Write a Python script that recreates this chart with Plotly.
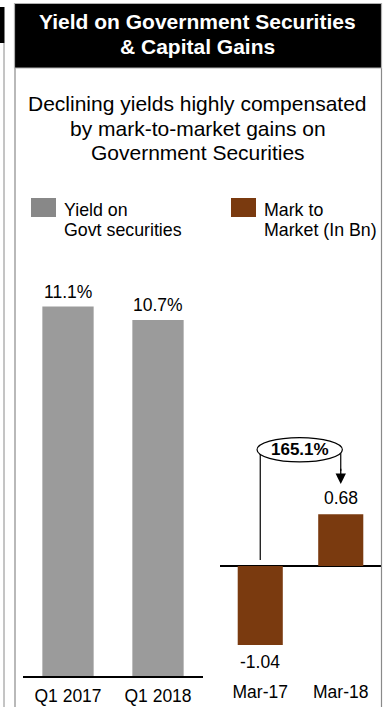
import plotly.graph_objects as go

# ---- data ----
yield_periods = ["Q1 2017", "Q1 2018"]
yield_values = [11.1, 10.7]
yield_labels = ["11.1%", "10.7%"]

mtm_periods = ["Mar-17", "Mar-18"]
mtm_values = [-1.04, 0.68]
mtm_labels = ["-1.04", "0.68"]

mtm_change_label = "165.1%"

title_lines = ["Yield on Government Securities", "& Capital Gains"]
subtitle_lines = ["Declining yields highly compensated",
                  "by mark-to-market gains on",
                  "Government Securities"]
legend_yield = ["Yield on", "Govt securities"]
legend_mtm = ["Mark to", "Market (In Bn)"]

# ---- styling ----
W, H = 385, 707
FONT = "Liberation Sans, Arial, Helvetica, sans-serif"
GRAY_BAR = "#9b9b9b"
BROWN = "#7a3a0f"
BORDER = "#8a8a8a"
LABEL_SIZE = 17.5


def px(x):
    return x / W


def py(y):
    return 1 - y / H


fig = go.Figure()

fig.add_trace(go.Bar(
    x=yield_periods, y=yield_values,
    marker=dict(color=GRAY_BAR, line=dict(width=0)),
    width=0.57, xaxis="x", yaxis="y", showlegend=False, hoverinfo="skip",
))

fig.add_trace(go.Bar(
    x=mtm_periods, y=mtm_values,
    marker=dict(color=BROWN, line=dict(width=0)),
    width=0.56, xaxis="x2", yaxis="y2", showlegend=False, hoverinfo="skip",
))

# both panels share the same plotting band; the zero line of the right
# panel sits higher because its scale reaches below zero
y_dom = [py(676), py(260)]
mtm_px_per_unit = 76.0
mtm_zero_px = 566
mtm_range = [-(676 - mtm_zero_px) / mtm_px_per_unit, (mtm_zero_px - 260) / mtm_px_per_unit]

fig.update_layout(
    width=W, height=H, autosize=False,
    margin=dict(l=0, r=0, t=0, b=0, pad=0),
    paper_bgcolor="white", plot_bgcolor="white",
    font=dict(family=FONT, color="black"),
    xaxis=dict(domain=[px(23), px(203)], anchor="y", showline=True,
               linecolor="black", linewidth=1.5, showgrid=False, ticks="",
               tickfont=dict(size=LABEL_SIZE), ticklabelstandoff=3,
               range=[-0.5, 1.5]),
    yaxis=dict(domain=y_dom, anchor="x", range=[0, 12.5], visible=False,
               showgrid=False, zeroline=False),
    xaxis2=dict(domain=[px(220), px(381)], anchor="y2", showline=False,
                showgrid=False, ticks="", tickfont=dict(size=LABEL_SIZE),
                ticklabelstandoff=3, range=[-0.5, 1.5]),
    yaxis2=dict(domain=y_dom, anchor="x2", range=mtm_range, showgrid=False,
                zeroline=True, zerolinecolor="black", zerolinewidth=1.5,
                showticklabels=False, showline=False),
)

shapes = []
# neighbouring panel edge on the far left
shapes.append(dict(type="rect", xref="paper", yref="paper",
                   x0=px(-5), x1=px(4.5), y0=py(43), y1=py(7),
                   fillcolor="black", line=dict(width=0)))
shapes.append(dict(type="line", xref="paper", yref="paper",
                   x0=px(4), x1=px(4), y0=py(43), y1=py(707),
                   line=dict(color=BORDER, width=1)))
# panel frame
shapes.append(dict(type="line", xref="paper", yref="paper",
                   x0=px(15), x1=px(15), y0=py(68), y1=py(707),
                   line=dict(color=BORDER, width=1.2)))
shapes.append(dict(type="line", xref="paper", yref="paper",
                   x0=px(381.5), x1=px(381.5), y0=py(68), y1=py(707),
                   line=dict(color=BORDER, width=1.2)))
# header bar
shapes.append(dict(type="rect", xref="paper", yref="paper",
                   x0=px(14.5), x1=px(381.5), y0=py(68), y1=py(3.5),
                   fillcolor="black", line=dict(color="#b0b0b0", width=1.2)))

# legend swatches
shapes.append(dict(type="rect", xref="paper", yref="paper",
                   x0=px(31), x1=px(56), y0=py(217), y1=py(198),
                   fillcolor="#888888", line=dict(width=0)))
shapes.append(dict(type="rect", xref="paper", yref="paper",
                   x0=px(231), x1=px(256), y0=py(217), y1=py(198),
                   fillcolor=BROWN, line=dict(width=0)))

# change callout between the two mark-to-market bars
call_y = 1.53
shapes.append(dict(type="line", xref="x2", yref="y2",
                   x0=0, x1=0, y0=0.08, y1=call_y,
                   line=dict(color="black", width=1.2)))
shapes.append(dict(type="line", xref="x2", yref="y2",
                   x0=1, x1=1, y0=call_y, y1=1.25,
                   line=dict(color="black", width=1.2)))
shapes.append(dict(type="circle", xref="x2", yref="y2",
                   x0=-0.04, x1=1.02, y0=1.37, y1=1.69,
                   fillcolor="white", line=dict(color="black", width=1.2)))

fig.update_layout(shapes=shapes)


def text_line(txt, x, y, size, color="black", bold=False, anchor="center"):
    txt = txt.replace("&", "&amp;")
    if bold:
        txt = "<b>" + txt + "</b>"
    return dict(text=txt, xref="paper", yref="paper", x=px(x), y=py(y),
                xanchor=anchor, yanchor="middle", showarrow=False,
                font=dict(size=size, color=color, family=FONT))


annotations = []
for txt, yy in zip(title_lines, [22, 47]):
    annotations.append(text_line(txt, 198, yy, 21, color="white", bold=True))
for txt, yy in zip(subtitle_lines, [104, 128, 152]):
    annotations.append(text_line(txt, 197.5, yy, 21))
for txt, yy in zip(legend_yield, [210, 230]):
    annotations.append(text_line(txt, 62, yy, 17.8, anchor="left"))
for txt, yy in zip(legend_mtm, [210, 230]):
    annotations.append(text_line(txt, 262, yy, 17.8, anchor="left"))

# value labels sit just beyond the end of each bar
for cat, val, lab in zip(yield_periods, yield_values, yield_labels):
    annotations.append(dict(text=lab, xref="x", yref="y", x=cat, y=val,
                            xanchor="center", yanchor="middle", yshift=14.5,
                            showarrow=False,
                            font=dict(size=LABEL_SIZE, color="black", family=FONT)))
for cat, val, lab in zip(mtm_periods, mtm_values, mtm_labels):
    annotations.append(dict(text=lab, xref="x2", yref="y2", x=cat, y=val,
                            xanchor="center", yanchor="middle",
                            yshift=16.5 if val >= 0 else -17,
                            showarrow=False,
                            font=dict(size=LABEL_SIZE, color="black", family=FONT)))

annotations.append(dict(text="<b>" + mtm_change_label + "</b>",
                        xref="x2", yref="y2", x=0.49, y=call_y,
                        xanchor="center", yanchor="middle", showarrow=False,
                        font=dict(size=17, color="black", family=FONT)))
annotations.append(dict(text="", xref="x2", yref="y2", x=1, y=1.08,
                        axref="x2", ayref="y2", ax=1, ay=1.3,
                        showarrow=True, arrowhead=2, arrowsize=1.6,
                        arrowwidth=1.3, arrowcolor="black"))
fig.update_layout(annotations=annotations)

fig.write_html("out.html")
